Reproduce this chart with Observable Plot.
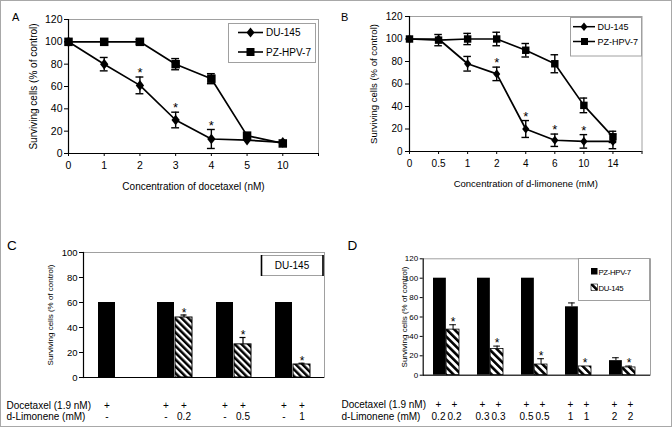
<!DOCTYPE html>
<html><head><meta charset="utf-8">
<script src="https://cdn.jsdelivr.net/npm/d3@7"></script>
<script src="https://cdn.jsdelivr.net/npm/@observablehq/plot@0.6"></script>
<style>
body{margin:0;background:#fff;}
#fig{position:relative;width:672px;height:427px;overflow:hidden;background:#fff;font-family:"Liberation Sans",Arial,sans-serif;}
.panel{position:absolute;}
#border{position:absolute;left:0;top:0;width:672px;height:427px;box-sizing:border-box;border:1px solid #a8a8a8;pointer-events:none;}
</style></head><body>
<svg width="0" height="0" style="position:absolute">
<defs>
<pattern id="hatchC" patternUnits="userSpaceOnUse" width="4.8" height="4.8" patternTransform="rotate(-45)">
<rect width="4.8" height="4.8" fill="white"/><rect width="2.5" height="4.8" fill="black"/></pattern>
<pattern id="hatchD" patternUnits="userSpaceOnUse" width="5.4" height="5.4" patternTransform="rotate(-45)">
<rect width="5.4" height="5.4" fill="white"/><rect width="2.6" height="5.4" fill="black"/></pattern>
</defs></svg>
<div id="fig">
<div class="panel" id="pA" style="left:0;top:0"></div>
<div class="panel" id="pB" style="left:336px;top:0"></div>
<div class="panel" id="pC" style="left:0;top:213px"></div>
<div class="panel" id="pD" style="left:336px;top:213px"></div>
<svg id="overlay" width="672" height="427" style="position:absolute;left:0;top:0;pointer-events:none" font-family="Liberation Sans, Arial, sans-serif">
 <text x="12" y="21" font-size="11">A</text>
 <text x="341" y="21" font-size="11">B</text>
 <text x="7" y="250" font-size="13.5">C</text>
 <text x="347.5" y="250" font-size="13.5">D</text>
 <!-- legend A -->
 <rect x="228.5" y="23.5" width="87" height="39" fill="white" stroke="#a0a0a0"/>
 <line x1="238" x2="263" y1="32.5" y2="32.5" stroke="black" stroke-width="1.6"/>
 <path d="M250.5,27.5L254.5,32.5L250.5,37.5L246.5,32.5Z" fill="black"/>
 <text x="266" y="36" font-size="10">DU-145</text>
 <line x1="238" x2="263" y1="52" y2="52" stroke="black" stroke-width="1.6"/>
 <rect x="246.5" y="48" width="8" height="8" fill="black"/>
 <text x="266" y="55.5" font-size="10">PZ-HPV-7</text>
 <!-- legend B -->
 <rect x="570.5" y="17.5" width="71" height="38.5" fill="white" stroke="#a0a0a0"/>
 <line x1="573" x2="595" y1="26.7" y2="26.7" stroke="black" stroke-width="1.5"/>
 <path d="M584,22.5L587.5,26.7L584,30.9L580.5,26.7Z" fill="black"/>
 <text x="597.5" y="30" font-size="9">DU-145</text>
 <line x1="573" x2="595" y1="41.5" y2="41.5" stroke="black" stroke-width="1.5"/>
 <rect x="581" y="38" width="7" height="7" fill="black"/>
 <text x="597.5" y="45" font-size="9">PZ-HPV-7</text>
 <!-- legend C -->
 <rect x="261.5" y="255.5" width="61.5" height="20" fill="white" stroke="#a0a0a0"/>
 <line x1="261.5" x2="261.5" y1="255" y2="276" stroke="black" stroke-width="1.6"/>
 <line x1="323" x2="323" y1="255" y2="276" stroke="black" stroke-width="1.6"/>
 <text x="292" y="269" font-size="10" text-anchor="middle">DU-145</text>
 <!-- legend D -->
 <rect x="578.5" y="258.5" width="71" height="42" fill="white" stroke="#a0a0a0"/>
 <rect x="591" y="268" width="6.5" height="6.5" fill="black"/>
 <text x="598.5" y="275" font-size="7.8" letter-spacing="-0.35">PZ-HPV-7</text>
 <rect x="591" y="284" width="6.5" height="6.5" fill="url(#hatchD)" stroke="black" stroke-width="0.6"/>
 <text x="598.5" y="290.5" font-size="7.8" letter-spacing="-0.35">DU-145</text>
</svg>
<div id="border"></div>
</div>
<script>
// ---------- Panel A data ----------
const aConc = ["0","1","2","3","4","5","10"];
const aDU = [100, 80, 61, 30, 13, 12, 10];
const aDUerr = [0, 6, 7.5, 7, 8.5, 0, 0];
const aPZ = [100, 100, 100, 80, 67, 16, 9];
const aPZerr = [0, 0, 2, 5, 4.5, 0, 0];
const aStars = [2, 3, 4];

// ---------- Panel B data ----------
const bConc = ["0","0.5","1","2","4","6","10","14"];
const bDU = [100, 100, 78, 69, 20, 10, 9, 9];
const bDUerr = [0, 0, 6.5, 6, 7.5, 5.5, 6, 6.5];
const bPZ = [100, 99, 100, 100, 90, 78, 41, 13];
const bPZerr = [0, 5, 5, 6, 6, 8, 6.5, 5];
const bStars = [3, 4, 5, 6];

// ---------- Panel C data ----------
const cGroups = ["g1","g2","g3","g4"];
const cDoc = [60, 60, 60, 60];
const cCombo = [null, 48, 26.5, 10.4];
const cComboErr = [null, 2, 5.5, 1];
const cLimonene = ["0.2","0.5","1"];

// ---------- Panel D data ----------
const dGroups = ["0.2","0.3","0.5","1","2"];
const dPZ = [100, 100, 100, 70.5, 15];
const dPZerr = [0, 0, 0, 4, 3];
const dDU = [47, 27, 11, 9, 8];
const dDUerr = [5, 3, 6, 0, 1.4];

const FONT = '"Liberation Sans", Arial, sans-serif';
const diamond = {draw(ctx, size){ const s = Math.sqrt(size); const h = s*0.6, w = s*0.47;
  ctx.moveTo(0,-h); ctx.lineTo(w,0); ctx.lineTo(0,h); ctx.lineTo(-w,0); ctx.closePath(); }};

function linePanel(cfg){
  const data = cfg.labels.map((c,i)=>({i, du:cfg.du[i], duE:cfg.duErr[i], pz:cfg.pz[i], pzE:cfg.pzErr[i]}));
  const errs = data.flatMap(d=>[{i:d.i,v:d.du,e:d.duE},{i:d.i,v:d.pz,e:d.pzE}]).filter(d=>d.e>0);
  const caps = errs.flatMap(d=>[{i:d.i,y:d.v-d.e},{i:d.i,y:d.v+d.e}]);
  const stars = cfg.stars.map(i=>({i, y:cfg.du[i]+cfg.duErr[i]}));
  const n = cfg.labels.length;
  return Plot.plot({
    width:336, height:213,
    marginLeft:cfg.ml, marginRight:cfg.mr, marginTop:cfg.mt, marginBottom:cfg.mb,
    style:{fontFamily:FONT, fontSize:"10px", background:"none", overflow:"visible", color:"black"},
    x:{domain:[0,n]}, y:{domain:[0,120]},
    marks:[
      Plot.frame({stroke:"#a0a0a0"}),
      Plot.ruleY([0],{stroke:"black", strokeWidth:1.2}),
      Plot.ruleX([0],{stroke:"black", strokeWidth:1.2}),
      Plot.axisY({ticks:d3.range(0,121,20), tickSize:4, tickPadding:cfg.tp, label:null, fontSize:cfg.fs}),
      Plot.axisX({ticks:d3.range(0,n+1), tickFormat:i=>cfg.labels[i] ?? "", tickSize:3, tickPadding:5, label:null, fontSize:cfg.fs}),
      Plot.text([cfg.xlabel], {text:d=>d, frameAnchor:"bottom", textAnchor:"middle", dy:cfg.xdy, fontSize:cfg.lfs, letterSpacing:"0.4px"}),
      Plot.text(["Surviving cells (% of control)"], {text:d=>d, frameAnchor:"left", textAnchor:"middle", rotate:-90, dx:cfg.ydx, fontSize:cfg.lfs, letterSpacing:"0.3px"}),
      Plot.ruleX(errs, {x:"i", y1:d=>d.v-d.e, y2:d=>d.v+d.e, strokeWidth:1.4}),
      Plot.ruleY(caps, {y:"y", x1:d=>d.i-cfg.cap, x2:d=>d.i+cfg.cap, strokeWidth:1.4}),
      Plot.line(data,{x:"i", y:"du", strokeWidth:1.7}),
      Plot.line(data,{x:"i", y:"pz", strokeWidth:1.7}),
      Plot.dot(data,{x:"i", y:"du", symbol:diamond, r:cfg.rd, fill:"black"}),
      Plot.dot(data,{x:"i", y:"pz", symbol:"square", r:cfg.rs, fill:"black"}),
      Plot.text(stars, {x:"i", y:"y", text:()=>"*", dy:-4, fontSize:13})
    ]
  });
}

document.getElementById("pA").append(linePanel({labels:aConc, du:aDU, duErr:aDUerr, pz:aPZ, pzErr:aPZerr, stars:aStars,
  ml:68, mr:18, mt:19, mb:60, tp:2, fs:10.5, lfs:10, xdy:36.5, ydx:-35, cap:0.11, rd:5, rs:4.8,
  xlabel:"Concentration of docetaxel (nM)"}));
document.getElementById("pB").append(linePanel({labels:bConc, du:bDU, duErr:bDUerr, pz:bPZ, pzErr:bPZerr, stars:bStars,
  ml:73, mr:30.5, mt:16, mb:62, tp:3, fs:10, lfs:9.5, xdy:35, ydx:-36, cap:0.13, rd:4.3, rs:4.2,
  xlabel:"Concentration of d-limonene (mM)"}));

// ---------- Panel C ----------
{
  const rows = cGroups.map((g,i)=>({g, doc:cDoc[i], combo:cCombo[i], err:cComboErr[i]}));
  const combos = rows.filter(d=>d.combo!=null).map((d,j)=>({...d, lim:cLimonene[j]}));
  const H = 18; // half band width (px)
  const r1 = 31, r2 = 42.5;
  document.getElementById("pC").append(Plot.plot({
    width:336, height:214, marginLeft:83, marginRight:12, marginTop:39, marginBottom:50,
    style:{fontFamily:FONT, fontSize:"10px", background:"none", overflow:"visible", color:"black"},
    x:{type:"band", domain:cGroups, paddingInner:0.4, paddingOuter:0.215, align:0.54, axis:null},
    y:{domain:[0,100]},
    marks:[
      Plot.frame({stroke:"#a0a0a0"}),
      Plot.barY(rows, {x:"g", y:"doc", fill:"black", insetRight:H}),
      Plot.barY(combos, {x:"g", y:"combo", fill:"url(#hatchC)", stroke:"black", strokeWidth:1, insetLeft:H}),
      Plot.ruleX(combos, {x:"g", y1:"combo", y2:d=>d.combo+d.err, dx:H/2, strokeWidth:1.2}),
      Plot.tickY(combos, {x:"g", y:d=>d.combo+d.err, insetLeft:H*1.5-3.5, insetRight:H/2-3.5, strokeWidth:1.2}),
      Plot.text(combos, {x:"g", y:d=>d.combo+d.err, text:()=>"*", dx:H/2, dy:-2, fontSize:12}),
      Plot.ruleY([0], {strokeWidth:1.2}),
      Plot.frame({anchor:"left", stroke:"black", strokeWidth:1.2}),
      Plot.axisY({ticks:d3.range(0,101,20), tickSize:4, tickPadding:2, label:null, fontSize:9.5}),
      Plot.text(["Surviving cells (% of control)"], {text:d=>d, frameAnchor:"left", textAnchor:"middle", rotate:-90, dx:-33, fontSize:8}),
      Plot.text(["Docetaxel (1.9 nM)"], {text:d=>d, frameAnchor:"bottom-left", textAnchor:"start", dx:-77, dy:r1}),
      Plot.text(["d-Limonene (mM)"], {text:d=>d, frameAnchor:"bottom-left", textAnchor:"start", dx:-77, dy:r2}),
      Plot.text(rows, {x:"g", frameAnchor:"bottom", textAnchor:"middle", text:()=>"+", dx:-H/2, dy:r1}),
      Plot.text(rows, {x:"g", frameAnchor:"bottom", textAnchor:"middle", text:()=>"-", dx:-H/2, dy:r2}),
      Plot.text(combos, {x:"g", frameAnchor:"bottom", textAnchor:"middle", text:()=>"+", dx:H/2, dy:r1}),
      Plot.text(combos, {x:"g", frameAnchor:"bottom", textAnchor:"middle", text:"lim", dx:H/2, dy:r2})
    ]
  }));
}

// ---------- Panel D ----------
{
  const rows = dGroups.map((g,i)=>({g, pz:dPZ[i], pzE:dPZerr[i], du:dDU[i], duE:dDUerr[i]}));
  const pzErr = rows.filter(d=>d.pzE>0), duErr = rows.filter(d=>d.duE>0);
  const H = 13.15;
  const T = 8; // table text offset from group centre
  const r1 = 33, r2 = 45;
  document.getElementById("pD").append(Plot.plot({
    width:336, height:214, marginLeft:86.7, marginRight:22, marginTop:45.3, marginBottom:52.3,
    style:{fontFamily:FONT, fontSize:"10px", background:"none", overflow:"visible", color:"black"},
    x:{type:"band", domain:dGroups, paddingInner:0.406, paddingOuter:0.27, align:0.42, axis:null},
    y:{domain:[0,120]},
    marks:[
      Plot.frame({stroke:"#a0a0a0"}),
      Plot.barY(rows, {x:"g", y:"pz", fill:"black", insetRight:H}),
      Plot.barY(rows, {x:"g", y:"du", fill:"url(#hatchD)", stroke:"black", strokeWidth:0.8, insetLeft:H}),
      Plot.ruleX(pzErr, {x:"g", y1:"pz", y2:d=>d.pz+d.pzE, dx:-H/2, strokeWidth:1}),
      Plot.tickY(pzErr, {x:"g", y:d=>d.pz+d.pzE, insetLeft:H/2-3.5, insetRight:H*1.5-3.5, strokeWidth:1}),
      Plot.ruleX(duErr, {x:"g", y1:"du", y2:d=>d.du+d.duE, dx:H/2, strokeWidth:1}),
      Plot.tickY(duErr, {x:"g", y:d=>d.du+d.duE, insetLeft:H*1.5-3.5, insetRight:H/2-3.5, strokeWidth:1}),
      Plot.text(rows, {x:"g", y:d=>d.du+d.duE, text:()=>"*", dx:H/2, dy:-3, fontSize:12}),
      Plot.ruleY([0], {strokeWidth:1}),
      Plot.frame({anchor:"left", stroke:"black", strokeWidth:1}),
      Plot.axisY({ticks:d3.range(0,121,20), tickSize:3, tickPadding:2, label:null, fontSize:8, letterSpacing:"-0.4px"}),
      Plot.text(["Surviving cells (% of control)"], {text:d=>d, frameAnchor:"left", textAnchor:"middle", rotate:-90, dx:-19, fontSize:8, letterSpacing:"-0.35px"}),
      Plot.text(["Docetaxel (1.9 nM)"], {text:d=>d, frameAnchor:"bottom-left", textAnchor:"start", dx:-81.7, dy:r1}),
      Plot.text(["d-Limonene (mM)"], {text:d=>d, frameAnchor:"bottom-left", textAnchor:"start", dx:-81.7, dy:r2}),
      Plot.text(rows, {x:"g", frameAnchor:"bottom", textAnchor:"middle", text:()=>"+", dx:-T, dy:r1}),
      Plot.text(rows, {x:"g", frameAnchor:"bottom", textAnchor:"middle", text:()=>"+", dx:T, dy:r1}),
      Plot.text(rows, {x:"g", frameAnchor:"bottom", textAnchor:"middle", text:"g", dx:-T, dy:r2}),
      Plot.text(rows, {x:"g", frameAnchor:"bottom", textAnchor:"middle", text:"g", dx:T, dy:r2})
    ]
  }));
}
</script>
</body></html>
